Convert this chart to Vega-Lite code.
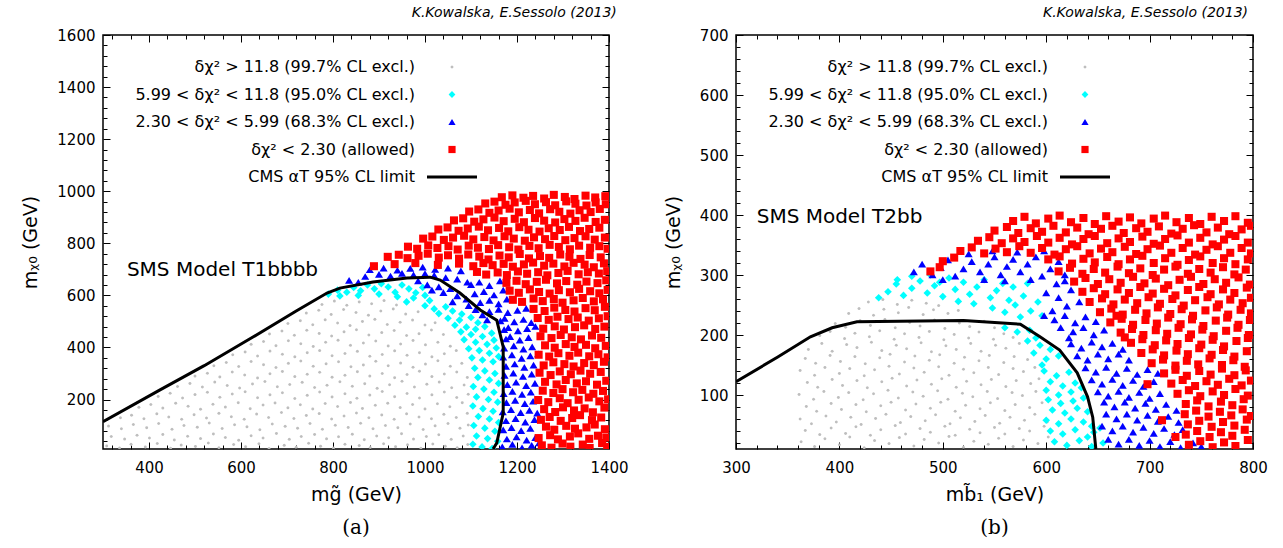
{
"$schema": "https://vega.github.io/schema/vega-lite/v6.json",
"background": "white",
"padding": {"left": 21, "top": 6, "right": 0, "bottom": 0},
"spacing": 34,
"config": {
  "font": "DejaVu Sans",
  "view": {"stroke": "black", "strokeWidth": 1.5},
  "axis": {"grid": false, "domain": false, "labelFont": "DejaVu Sans", "labelFontSize": 15, "labelColor": "black", "tickColor": "black", "tickWidth": 1, "titleFont": "DejaVu Sans", "titleFontSize": 19, "titleFontWeight": "normal", "titleColor": "black", "labelFlush": false, "labelOverlap": false, "format": "d"},
  "title": {"font": "DejaVu Sans", "fontWeight": "normal", "color": "black"},
  "point": {"filled": true, "opacity": 1, "strokeWidth": 0, "size": 100},
  "legend": {"orient": "none", "legendX": 41, "legendY": 24, "title": null, "labelFont": "DejaVu Sans", "labelFontSize": 16, "labelColor": "black", "labelAlign": "right", "labelOffset": -45, "symbolOffset": 300, "labelLimit": 600, "rowPadding": 11.5, "symbolSize": 100, "symbolStrokeWidth": 0}
},
"resolve": {"scale": {"color": "independent", "shape": "independent"}},
"hconcat": [
{
  "title": {"text": "K.Kowalska, E.Sessolo (2013)", "anchor": "end", "orient": "top", "fontStyle": "italic", "fontSize": 14, "offset": 7, "dx": -12},
  "vconcat": [{
    "width": 506, "height": 414,
    "title": {"text": "(a)", "orient": "bottom", "anchor": "middle", "frame": "group", "font": "DejaVu Serif", "fontSize": 20, "offset": 14},
    "data": {"values": "x,y,c\n308,22,g\n336,14,g\n361,28,g\n392,18,g\n418,31,g\n447,13,g\n470,25,g\n501,20,g\n529,33,g\n552,15,g\n584,27,g\n610,19,g\n639,30,g\n661,12,g\n694,24,g\n720,17,g\n747,32,g\n773,21,g\n801,14,g\n826,28,g\n857,23,g\n881,16,g\n910,30,g\n936,19,g\n962,26,g\n991,13,g\n1017,29,g\n1044,21,g\n1070,15,g\n1093,27,g\n318,58,g\n347,48,g\n374,63,g\n401,52,g\n430,66,g\n455,45,g\n484,59,g\n512,50,g\n540,68,g\n566,54,g\n595,44,g\n622,61,g\n648,52,g\n677,70,g\n705,47,g\n731,58,g\n760,66,g\n786,49,g\n812,57,g\n842,67,g\n868,46,g\n895,60,g\n921,53,g\n949,69,g\n975,48,g\n1003,58,g\n1030,65,g\n1057,47,g\n1083,60,g\n312,98,g\n340,88,g\n366,104,g\n395,92,g\n421,108,g\n450,86,g\n476,100,g\n505,94,g\n531,110,g\n559,89,g\n586,103,g\n613,95,g\n641,84,g\n668,106,g\n696,97,g\n723,90,g\n750,108,g\n777,86,g\n805,101,g\n833,93,g\n860,109,g\n887,88,g\n914,100,g\n941,92,g\n968,106,g\n996,85,g\n1022,99,g\n1050,108,g\n1076,90,g\n1094,102,g\n338,130,g\n362,140,g\n389,126,g\n417,145,g\n443,133,g\n471,124,g\n498,142,g\n525,129,g\n552,147,g\n579,134,g\n607,124,g\n634,144,g\n660,131,g\n688,150,g\n715,127,g\n742,139,g\n770,146,g\n797,125,g\n824,137,g\n851,148,g\n878,130,g\n906,141,g\n933,124,g\n960,145,g\n987,133,g\n1014,126,g\n1041,143,g\n1068,131,g\n1092,147,g\n378,170,g\n404,181,g\n430,167,g\n458,186,g\n485,174,g\n512,163,g\n539,182,g\n566,171,g\n594,188,g\n620,165,g\n648,179,g\n674,187,g\n702,168,g\n729,180,g\n756,164,g\n783,185,g\n810,173,g\n838,189,g\n864,166,g\n892,178,g\n919,186,g\n946,169,g\n973,181,g\n1000,164,g\n1027,184,g\n1054,172,g\n1081,188,g\n420,212,g\n446,224,g\n473,206,g\n500,219,g\n527,228,g\n554,209,g\n581,221,g\n609,230,g\n636,207,g\n663,218,g\n690,226,g\n717,204,g\n744,216,g\n771,229,g\n798,210,g\n826,222,g\n852,205,g\n880,217,g\n907,231,g\n934,211,g\n961,223,g\n988,206,g\n1015,218,g\n1042,229,g\n1069,208,g\n1094,220,g\n462,250,g\n489,262,g\n516,248,g\n543,267,g\n570,254,g\n597,244,g\n625,260,g\n652,269,g\n679,249,g\n706,258,g\n733,266,g\n760,246,g\n787,255,g\n815,268,g\n842,251,g\n869,261,g\n896,243,g\n923,257,g\n950,270,g\n977,248,g\n1004,259,g\n1031,267,g\n1058,245,g\n1085,256,g\n500,290,g\n527,301,g\n554,287,g\n581,306,g\n608,294,g\n636,283,g\n663,299,g\n690,308,g\n717,288,g\n744,297,g\n771,305,g\n798,286,g\n826,293,g\n853,307,g\n880,290,g\n907,300,g\n934,284,g\n961,296,g\n988,309,g\n1015,288,g\n1042,298,g\n1069,306,g\n1092,285,g\n541,330,g\n568,342,g\n595,327,g\n622,346,g\n649,334,g\n676,323,g\n703,339,g\n730,348,g\n757,328,g\n785,337,g\n812,345,g\n839,326,g\n866,333,g\n893,347,g\n920,330,g\n947,340,g\n974,324,g\n1001,336,g\n1028,349,g\n1055,328,g\n1080,339,g\n582,372,g\n609,383,g\n636,367,g\n663,386,g\n690,374,g\n717,364,g\n744,380,g\n771,388,g\n798,368,g\n826,377,g\n853,385,g\n880,366,g\n907,373,g\n934,387,g\n961,370,g\n988,380,g\n1015,364,g\n1042,376,g\n1068,388,g\n622,412,g\n649,423,g\n676,407,g\n703,426,g\n730,414,g\n757,404,g\n784,420,g\n811,428,g\n838,408,g\n866,417,g\n893,425,g\n920,406,g\n947,413,g\n974,427,g\n1001,410,g\n1028,420,g\n1055,405,g\n662,452,g\n689,463,g\n716,447,g\n743,466,g\n770,454,g\n797,444,g\n824,460,g\n851,468,g\n878,448,g\n906,457,g\n933,465,g\n960,446,g\n987,453,g\n1014,467,g\n1040,450,g\n702,492,g\n729,503,g\n756,487,g\n783,506,g\n810,494,g\n837,484,g\n864,500,g\n891,508,g\n918,488,g\n946,497,g\n973,505,g\n1000,486,g\n1022,495,g\n742,532,g\n769,543,g\n796,527,g\n823,546,g\n850,534,g\n877,524,g\n904,540,g\n931,548,g\n958,528,g\n985,537,g\n776,565,g\n803,578,g\n830,562,g\n857,575,g\n884,568,g\n911,580,g\n938,563,g\n790,605,c\n810,620,c\n830,612,c\n845,630,c\n860,618,c\n875,640,c\n890,625,c\n905,645,c\n920,632,c\n935,612,c\n950,640,c\n965,625,c\n980,610,c\n995,630,c\n815,598,c\n855,600,c\n900,605,c\n940,595,c\n975,590,c\n1000,600,c\n1010,580,c\n960,575,c\n1000,560,c\n1020,548,c\n1045,556,c\n1030,530,c\n1060,540,c\n1080,528,c\n1050,512,c\n1075,505,c\n1100,515,c\n1115,495,c\n1065,485,c\n1090,478,c\n1110,470,c\n1130,480,c\n1078,460,c\n1100,450,c\n1125,442,c\n1145,455,c\n1085,430,c\n1110,420,c\n1135,412,c\n1150,428,c\n1095,395,c\n1118,388,c\n1140,378,c\n1155,398,c\n1102,360,c\n1125,352,c\n1148,345,c\n1160,365,c\n1108,320,c\n1130,310,c\n1152,300,c\n1115,285,c\n1140,275,c\n1160,262,c\n1105,250,c\n1128,240,c\n1150,228,c\n1112,210,c\n1138,200,c\n1158,190,c\n1104,175,c\n1126,165,c\n1148,155,c\n1116,135,c\n1140,125,c\n1160,112,c\n1106,100,c\n1130,90,c\n1152,78,c\n1112,60,c\n1136,50,c\n1158,40,c\n1104,28,c\n1124,18,c\n1146,12,c\n1168,18,b\n1190,27,b\n1211,14,b\n1232,24,b\n1248,33,b\n1178,48,b\n1199,56,b\n1221,44,b\n1240,53,b\n1170,83,b\n1188,92,b\n1209,80,b\n1229,89,b\n1176,118,b\n1197,126,b\n1218,113,b\n1238,122,b\n1169,152,b\n1187,161,b\n1208,149,b\n1227,158,b\n1244,147,b\n1177,188,b\n1196,196,b\n1217,184,b\n1235,193,b\n1171,222,b\n1190,231,b\n1211,219,b\n1230,228,b\n1179,257,b\n1198,266,b\n1220,253,b\n1239,262,b\n1173,292,b\n1192,301,b\n1213,288,b\n1232,297,b\n1176,327,b\n1195,336,b\n1216,323,b\n1236,332,b\n1170,362,b\n1189,371,b\n1210,358,b\n1229,367,b\n1246,375,b\n1172,397,b\n1193,406,b\n1214,393,b\n1233,402,b\n1176,432,b\n1185,441,b\n1206,428,b\n1225,437,b\n1172,468,b\n1181,476,b\n1202,463,b\n1222,472,b\n1240,480,b\n1164,502,b\n1173,511,b\n1194,498,b\n1214,507,b\n1231,495,b\n1140,537,b\n1160,546,b\n1180,533,b\n1201,542,b\n1220,550,b\n1120,572,b\n1140,580,b\n1160,567,b\n1178,585,b\n1108,605,b\n1128,614,b\n1150,601,b\n1170,620,b\n1100,641,b\n1118,650,b\n1140,637,b\n1163,655,b\n870,672,b\n900,680,b\n925,674,b\n950,684,b\n975,678,b\n1000,683,b\n1020,676,b\n1045,668,b\n1070,662,b\n1092,650,b\n880,698,b\n910,704,b\n940,696,b\n968,703,b\n995,708,b\n1022,699,b\n1050,704,b\n1078,694,b\n1005,640,b\n1030,632,b\n1055,625,b\n985,655,b\n1040,610,b\n1070,598,b\n1090,585,b\n1060,575,b\n1095,560,b\n1110,545,b\n1125,525,b\n1135,505,b\n1015,620,b\n855,650,b\n835,657,b\n1254,24,r\n1275,15,r\n1299,31,r\n1316,19,r\n1343,27,r\n1358,14,r\n1385,33,r\n1396,18,r\n1247,52,r\n1272,63,r\n1289,47,r\n1315,58,r\n1333,70,r\n1357,49,r\n1376,61,r\n1394,54,r\n1263,96,r\n1281,84,r\n1307,99,r\n1326,88,r\n1351,93,r\n1369,104,r\n1391,86,r\n1252,122,r\n1271,133,r\n1295,118,r\n1320,129,r\n1337,140,r\n1363,121,r\n1383,131,r\n1259,163,r\n1283,152,r\n1300,170,r\n1324,158,r\n1347,166,r\n1365,151,r\n1390,169,r\n1246,198,r\n1268,190,r\n1293,205,r\n1310,186,r\n1334,199,r\n1356,208,r\n1379,193,r\n1398,201,r\n1256,234,r\n1279,225,r\n1299,240,r\n1322,228,r\n1342,237,r\n1366,222,r\n1387,233,r\n1261,268,r\n1286,258,r\n1306,275,r\n1330,262,r\n1350,270,r\n1374,257,r\n1394,272,r\n1249,303,r\n1273,294,r\n1293,308,r\n1317,297,r\n1338,311,r\n1359,299,r\n1382,306,r\n1258,331,r\n1279,343,r\n1303,336,r\n1323,327,r\n1346,340,r\n1367,332,r\n1389,345,r\n1247,372,r\n1270,365,r\n1290,378,r\n1314,368,r\n1333,380,r\n1357,366,r\n1377,374,r\n1397,362,r\n1261,408,r\n1282,399,r\n1306,413,r\n1325,402,r\n1350,410,r\n1370,397,r\n1393,406,r\n1251,443,r\n1275,436,r\n1295,448,r\n1319,439,r\n1339,431,r\n1363,446,r\n1383,437,r\n1257,472,r\n1282,481,r\n1302,469,r\n1326,478,r\n1346,485,r\n1370,471,r\n1390,480,r\n1245,513,r\n1269,506,r\n1288,518,r\n1312,509,r\n1332,515,r\n1356,503,r\n1378,512,r\n1397,520,r\n1236,548,r\n1260,540,r\n1281,553,r\n1305,544,r\n1325,538,r\n1349,551,r\n1369,543,r\n1391,556,r\n1191,583,r\n1211,575,r\n1236,588,r\n1256,578,r\n1280,586,r\n1299,572,r\n1323,581,r\n1343,590,r\n1367,577,r\n1387,585,r\n1184,618,r\n1204,610,r\n1228,623,r\n1248,613,r\n1271,607,r\n1291,620,r\n1315,612,r\n1335,625,r\n1359,616,r\n1379,608,r\n1397,621,r\n1177,648,r\n1199,656,r\n1219,643,r\n1243,652,r\n1263,660,r\n1287,646,r\n1307,655,r\n1331,641,r\n1351,653,r\n1375,647,r\n1394,658,r\n1113,690,r\n1133,680,r\n1158,688,r\n1178,678,r\n1202,692,r\n1222,683,r\n1246,689,r\n1266,677,r\n1290,686,r\n1310,694,r\n1334,681,r\n1354,689,r\n1378,684,r\n1396,693,r\n889,712,r\n934,720,r\n979,724,r\n1028,717,r\n1074,722,r\n1105,712,r\n1127,724,r\n1147,716,r\n1171,721,r\n1191,710,r\n1215,719,r\n1235,726,r\n1259,714,r\n1279,722,r\n1303,711,r\n1323,725,r\n1347,718,r\n1367,708,r\n1389,723,r\n919,748,r\n943,756,r\n962,743,r\n986,752,r\n1006,760,r\n1030,745,r\n1050,754,r\n1074,741,r\n1094,757,r\n1118,749,r\n1138,738,r\n1162,753,r\n1182,746,r\n1206,759,r\n1226,742,r\n1250,751,r\n1270,744,r\n1294,757,r\n1314,748,r\n1338,740,r\n1358,755,r\n1382,746,r\n963,787,r\n983,779,r\n1007,792,r\n1027,782,r\n1051,789,r\n1071,776,r\n1095,791,r\n1115,783,r\n1139,778,r\n1159,793,r\n1183,785,r\n1203,776,r\n1227,790,r\n1247,781,r\n1271,794,r\n1291,786,r\n1315,777,r\n1335,791,r\n1359,783,r\n1379,789,r\n1397,779,r\n996,818,r\n1016,826,r\n1041,813,r\n1061,822,r\n1085,829,r\n1105,815,r\n1129,824,r\n1149,811,r\n1173,827,r\n1193,818,r\n1217,810,r\n1237,823,r\n1261,816,r\n1281,828,r\n1305,812,r\n1325,820,r\n1349,827,r\n1369,814,r\n1391,822,r\n1029,853,r\n1049,861,r\n1073,848,r\n1093,857,r\n1117,864,r\n1137,850,r\n1161,859,r\n1181,846,r\n1205,862,r\n1225,852,r\n1249,845,r\n1269,858,r\n1293,851,r\n1313,863,r\n1337,847,r\n1357,855,r\n1379,860,r\n1063,888,r\n1083,896,r\n1107,883,r\n1127,892,r\n1151,899,r\n1171,885,r\n1195,894,r\n1215,881,r\n1239,897,r\n1259,887,r\n1283,880,r\n1303,893,r\n1327,886,r\n1347,898,r\n1371,882,r\n1391,890,r\n1096,922,r\n1116,930,r\n1140,917,r\n1160,926,r\n1184,933,r\n1204,919,r\n1228,928,r\n1248,915,r\n1272,931,r\n1292,921,r\n1316,914,r\n1336,927,r\n1360,920,r\n1380,932,r\n1131,953,r\n1151,960,r\n1175,948,r\n1195,957,r\n1219,963,r\n1239,950,r\n1263,958,r\n1283,946,r\n1307,961,r\n1327,952,r\n1351,945,r\n1371,957,r\n1393,950,r\n1167,977,r\n1190,984,r\n1214,975,r\n1235,982,r\n1259,972,r\n1280,986,r\n1304,978,r\n1325,970,r\n1349,983,r\n1370,976,r\n1392,981,r", "format": {"type": "csv", "parse": {"x": "number", "y": "number"}}},
    "resolve": {"axis": {"x": "independent", "y": "independent"}},
    "layer": [
      {
        "transform": [{"filter": "datum.c === 'g'"}],
        "mark": {"type": "point", "filled": true, "clip": true},
        "encoding": {
          "x": {"field": "x", "type": "quantitative", "scale": {"domain": [300, 1400], "nice": false, "zero": false}, "axis": {"orient": "bottom", "values": [400, 600, 800, 1000, 1200, 1400], "offset": -7, "tickSize": 7, "labelPadding": 11, "title": "mg̃ (GeV)", "titlePadding": 10}},
          "y": {"field": "y", "type": "quantitative", "scale": {"domain": [10, 1600], "nice": false, "zero": false}, "axis": {"orient": "left", "values": [200, 400, 600, 800, 1000, 1200, 1400, 1600], "offset": -7, "tickSize": 7, "labelPadding": 8, "title": "mᵪ₀ (GeV)", "titlePadding": 16}},
          "color": {"field": "c", "type": "nominal", "scale": {"domain": ["g", "c", "b", "r", "l"], "range": ["#bebebe", "#00ffff", "#0000ff", "#ff0000", "#000000"]},
            "legend": {"labelExpr": "datum.value === 'g' ? 'δχ² > 11.8 (99.7% CL excl.)' : datum.value === 'c' ? '5.99 < δχ² < 11.8 (95.0% CL excl.)' : datum.value === 'b' ? '2.30 < δχ² < 5.99 (68.3% CL excl.)' : datum.value === 'r' ? 'δχ² < 2.30 (allowed)' : 'CMS αT 95% CL limit'"}},
          "shape": {"field": "c", "type": "nominal", "scale": {"domain": ["g", "c", "b", "r", "l"], "range": ["M0.3,0L0.21,0.21L0,0.3L-0.21,0.21L-0.3,0L-0.21,-0.21L0,-0.3L0.21,-0.21Z", "M0,-0.68L0.68,0L0,0.68L-0.68,0Z", "M0,-0.62L0.72,0.58L-0.72,0.58Z", "M-0.72,-0.72L0.72,-0.72L0.72,0.72L-0.72,0.72Z", "M-5,-0.3L5,-0.3L5,0.3L-5,0.3Z"]}}
        }
      },
      {
        "transform": [{"filter": "datum.c !== 'g'"}],
        "mark": {"type": "point", "filled": true, "clip": true, "size": 125},
        "encoding": {
          "x": {"field": "x", "type": "quantitative", "axis": {"orient": "bottom", "values": [320,360,440,480,520,560,640,680,720,760,840,880,920,960,1040,1080,1120,1160,1240,1280,1320,1360], "offset": -4, "tickSize": 4, "labels": false, "title": null}},
          "y": {"field": "y", "type": "quantitative", "axis": {"orient": "left", "values": [40,80,120,160,240,280,320,360,440,480,520,560,640,680,720,760,840,880,920,960,1040,1080,1120,1160,1240,1280,1320,1360,1440,1480,1520,1560], "offset": -4, "tickSize": 4, "labels": false, "title": null}},
          "color": {"field": "c", "type": "nominal"},
          "shape": {"field": "c", "type": "nominal"}
        }
      },
      {
        "data": {"values": [{"i":0,"x":300,"y":115},{"i":1,"x":424,"y":237},{"i":2,"x":520,"y":330},{"i":3,"x":626,"y":440},{"i":4,"x":720,"y":540},{"i":5,"x":787,"y":609},{"i":6,"x":815,"y":628},{"i":7,"x":887,"y":651},{"i":8,"x":961,"y":667},{"i":9,"x":1011,"y":670},{"i":10,"x":1033,"y":659},{"i":11,"x":1076,"y":609},{"i":12,"x":1120,"y":544},{"i":13,"x":1156,"y":505},{"i":14,"x":1170,"y":402},{"i":15,"x":1170,"y":148},{"i":16,"x":1156,"y":33},{"i":17,"x":1148,"y":10}]},
        "mark": {"type": "line", "color": "black", "strokeWidth": 3, "clip": true},
        "encoding": {
          "x": {"field": "x", "type": "quantitative", "axis": {"orient": "top", "values": [400, 600, 800, 1000, 1200, 1400], "offset": -7, "tickSize": 7, "labels": false, "title": null}},
          "y": {"field": "y", "type": "quantitative", "axis": {"orient": "right", "values": [200, 400, 600, 800, 1000, 1200, 1400, 1600], "offset": -7, "tickSize": 7, "labels": false, "title": null}},
          "order": {"field": "i", "type": "quantitative"}
        }
      },
      {
        "data": {"values": [{"t": "SMS Model T1bbbb"}]},
        "mark": {"type": "text", "align": "left", "baseline": "middle", "fontSize": 20, "font": "DejaVu Sans", "color": "black"},
        "encoding": {
          "x": {"datum": 352, "type": "quantitative", "axis": {"orient": "top", "values": [320,360,440,480,520,560,640,680,720,760,840,880,920,960,1040,1080,1120,1160,1240,1280,1320,1360], "offset": -4, "tickSize": 4, "labels": false, "title": null}},
          "y": {"datum": 697, "type": "quantitative", "axis": {"orient": "right", "values": [40,80,120,160,240,280,320,360,440,480,520,560,640,680,720,760,840,880,920,960,1040,1080,1120,1160,1240,1280,1320,1360,1440,1480,1520,1560], "offset": -4, "tickSize": 4, "labels": false, "title": null}},
          "text": {"field": "t"}
        }
      }
    ]
  }]
},
{
  "title": {"text": "K.Kowalska, E.Sessolo (2013)", "anchor": "end", "orient": "top", "fontStyle": "italic", "fontSize": 14, "offset": 7, "dx": -20},
  "vconcat": [{
    "width": 517, "height": 414,
    "title": {"text": "(b)", "orient": "bottom", "anchor": "middle", "frame": "group", "font": "DejaVu Serif", "fontSize": 20, "offset": 14},
    "data": {"values": "x,y,c\n363,22,g\n376,14,g\n386,27,g\n400,17,g\n410,30,g\n424,12,g\n434,24,g\n448,19,g\n458,29,g\n472,15,g\n482,26,g\n496,20,g\n506,31,g\n520,13,g\n530,23,g\n544,18,g\n554,28,g\n568,14,g\n578,25,g\n592,19,g\n602,30,g\n367,41,g\n381,34,g\n392,45,g\n406,36,g\n416,47,g\n430,33,g\n440,42,g\n454,49,g\n464,35,g\n478,44,g\n488,38,g\n502,48,g\n512,33,g\n526,43,g\n536,37,g\n550,46,g\n560,35,g\n574,44,g\n584,40,g\n598,48,g\n362,60,g\n373,52,g\n387,65,g\n397,55,g\n411,63,g\n421,51,g\n435,61,g\n445,68,g\n459,54,g\n469,64,g\n483,57,g\n493,67,g\n507,52,g\n517,62,g\n531,56,g\n541,66,g\n555,53,g\n565,63,g\n579,58,g\n589,68,g\n601,55,g\n368,81,g\n378,73,g\n392,86,g\n402,76,g\n416,84,g\n426,72,g\n440,82,g\n450,88,g\n464,75,g\n474,85,g\n488,78,g\n498,88,g\n512,73,g\n522,83,g\n536,77,g\n546,87,g\n560,74,g\n570,84,g\n584,79,g\n596,87,g\n361,101,g\n375,93,g\n385,106,g\n399,96,g\n409,104,g\n423,92,g\n433,102,g\n447,108,g\n457,95,g\n471,105,g\n481,98,g\n495,107,g\n505,93,g\n519,103,g\n529,97,g\n543,106,g\n553,94,g\n567,104,g\n577,99,g\n590,106,g\n369,121,g\n379,113,g\n393,126,g\n403,116,g\n417,124,g\n427,112,g\n441,122,g\n451,128,g\n465,115,g\n475,125,g\n489,118,g\n499,127,g\n513,113,g\n523,123,g\n537,117,g\n547,126,g\n561,114,g\n571,124,g\n585,119,g\n593,127,g\n362,141,g\n376,133,g\n386,146,g\n400,136,g\n410,144,g\n424,132,g\n434,142,g\n448,148,g\n458,135,g\n472,145,g\n482,138,g\n496,147,g\n506,133,g\n520,143,g\n530,137,g\n544,146,g\n554,134,g\n568,144,g\n578,139,g\n589,146,g\n367,161,g\n377,153,g\n391,166,g\n401,156,g\n415,164,g\n425,152,g\n439,162,g\n449,168,g\n463,155,g\n473,165,g\n487,158,g\n497,167,g\n511,153,g\n521,163,g\n535,157,g\n545,166,g\n559,154,g\n569,164,g\n582,159,g\n370,176,g\n383,186,g\n393,173,g\n407,184,g\n417,179,g\n431,188,g\n441,174,g\n455,183,g\n465,177,g\n479,187,g\n489,172,g\n503,182,g\n513,176,g\n527,186,g\n537,173,g\n551,183,g\n561,178,g\n574,186,g\n381,199,g\n391,206,g\n405,194,g\n415,203,g\n429,197,g\n439,207,g\n453,193,g\n463,202,g\n477,196,g\n487,206,g\n501,192,g\n511,201,g\n525,195,g\n535,205,g\n549,193,g\n559,202,g\n568,196,g\n396,219,g\n406,213,g\n420,224,g\n430,216,g\n444,226,g\n454,212,g\n468,221,g\n478,215,g\n492,225,g\n502,211,g\n516,220,g\n526,214,g\n540,223,g\n550,212,g\n409,236,g\n419,244,g\n433,233,g\n443,243,g\n457,237,g\n467,246,g\n481,234,g\n491,242,g\n505,236,g\n515,241,g\n428,255,g\n442,259,g\n456,251,g\n470,258,g\n484,253,g\n496,249,g\n438,262,c\n447,272,c\n455,285,c\n462,266,c\n470,278,c\n478,290,c\n485,270,c\n492,282,c\n500,264,c\n506,295,c\n512,276,c\n520,288,c\n526,268,c\n533,280,c\n540,292,c\n546,262,c\n552,274,c\n558,286,c\n564,258,c\n530,252,c\n515,256,c\n548,245,c\n560,238,c\n470,298,c\n488,300,c\n456,292,c\n497,288,c\n570,250,c\n578,265,c\n585,240,c\n592,255,c\n575,230,c\n596,232,c\n568,280,c\n582,286,c\n560,212,c\n572,205,c\n584,208,c\n590,195,c\n582,190,c\n594,183,c\n604,176,c\n588,170,c\n600,160,c\n612,165,c\n596,150,c\n598,140,c\n610,132,c\n622,138,c\n604,122,c\n616,115,c\n628,120,c\n600,108,c\n612,100,c\n624,105,c\n634,112,c\n602,92,c\n614,86,c\n626,90,c\n636,95,c\n606,75,c\n618,70,c\n630,78,c\n640,72,c\n600,58,c\n612,52,c\n624,60,c\n636,55,c\n644,48,c\n604,40,c\n616,35,c\n628,42,c\n640,30,c\n646,38,c\n608,22,c\n620,16,c\n632,24,c\n644,14,c\n655,20,c\n652,45,c\n472,305,b\n480,318,b\n490,300,b\n498,312,b\n505,325,b\n512,298,b\n520,310,b\n528,322,b\n536,305,b\n544,318,b\n550,330,b\n556,300,b\n562,314,b\n568,326,b\n575,305,b\n582,318,b\n590,330,b\n596,298,b\n604,310,b\n612,322,b\n618,300,b\n540,292,b\n560,290,b\n585,292,b\n610,285,b\n500,292,b\n525,335,b\n548,340,b\n572,338,b\n598,340,b\n600,270,b\n612,262,b\n624,275,b\n632,255,b\n620,248,b\n606,240,b\n618,290,b\n598,232,b\n608,225,b\n618,232,b\n628,220,b\n638,230,b\n648,222,b\n614,212,b\n626,205,b\n636,212,b\n646,200,b\n656,208,b\n622,195,b\n624,185,b\n634,178,b\n644,188,b\n654,180,b\n664,186,b\n674,176,b\n630,165,b\n640,158,b\n650,168,b\n660,160,b\n670,168,b\n680,158,b\n638,145,b\n648,138,b\n658,146,b\n668,136,b\n678,144,b\n688,134,b\n698,142,b\n708,136,b\n644,125,b\n654,118,b\n664,126,b\n674,116,b\n684,124,b\n694,114,b\n704,122,b\n650,105,b\n660,98,b\n670,106,b\n680,96,b\n690,104,b\n700,94,b\n710,102,b\n656,88,b\n666,80,b\n676,88,b\n686,78,b\n696,86,b\n706,76,b\n716,84,b\n726,74,b\n658,68,b\n668,60,b\n678,68,b\n688,58,b\n698,66,b\n708,56,b\n718,64,b\n728,54,b\n654,48,b\n664,40,b\n674,48,b\n684,38,b\n694,46,b\n704,36,b\n714,44,b\n724,34,b\n732,42,b\n660,26,b\n670,18,b\n680,26,b\n690,16,b\n700,24,b\n710,14,b\n720,22,b\n730,12,b\n742,20,b\n750,14,b\n568,390,r\n579,397,r\n590,386,r\n602,394,r\n613,399,r\n624,388,r\n636,395,r\n647,385,r\n658,398,r\n670,389,r\n681,396,r\n692,386,r\n704,394,r\n715,399,r\n726,388,r\n738,395,r\n749,385,r\n760,397,r\n772,390,r\n783,398,r\n795,387,r\n550,374,r\n562,380,r\n573,370,r\n585,378,r\n596,372,r\n607,382,r\n619,371,r\n630,379,r\n641,368,r\n653,377,r\n664,382,r\n675,370,r\n687,378,r\n698,372,r\n709,381,r\n721,369,r\n732,377,r\n743,383,r\n755,371,r\n766,379,r\n777,368,r\n789,376,r\n798,382,r\n534,357,r\n545,363,r\n557,353,r\n568,361,r\n579,355,r\n591,365,r\n602,354,r\n613,362,r\n625,351,r\n636,360,r\n647,365,r\n659,353,r\n670,361,r\n681,355,r\n693,364,r\n704,352,r\n715,360,r\n727,366,r\n738,354,r\n749,362,r\n761,351,r\n772,359,r\n783,365,r\n795,354,r\n517,340,r\n528,346,r\n540,336,r\n551,344,r\n562,338,r\n574,348,r\n585,337,r\n596,345,r\n608,334,r\n619,343,r\n630,348,r\n642,336,r\n653,344,r\n664,338,r\n676,347,r\n687,335,r\n698,343,r\n710,349,r\n721,337,r\n732,345,r\n744,334,r\n755,342,r\n766,348,r\n778,337,r\n789,345,r\n798,336,r\n500,323,r\n511,329,r\n602,326,r\n613,331,r\n625,319,r\n636,327,r\n647,321,r\n659,330,r\n670,318,r\n681,326,r\n693,332,r\n704,320,r\n715,328,r\n727,317,r\n738,325,r\n749,331,r\n761,320,r\n772,328,r\n783,318,r\n795,326,r\n488,306,r\n497,313,r\n612,306,r\n623,312,r\n635,302,r\n646,310,r\n657,304,r\n669,314,r\n680,303,r\n691,311,r\n703,300,r\n714,309,r\n725,314,r\n737,302,r\n748,310,r\n759,304,r\n771,313,r\n782,301,r\n793,309,r\n627,289,r\n638,295,r\n650,285,r\n661,293,r\n672,287,r\n684,297,r\n695,286,r\n706,294,r\n718,283,r\n729,292,r\n740,297,r\n752,285,r\n763,293,r\n774,287,r\n786,296,r\n797,284,r\n635,272,r\n646,278,r\n657,268,r\n669,276,r\n680,270,r\n691,280,r\n703,269,r\n714,277,r\n725,266,r\n737,275,r\n748,280,r\n759,268,r\n771,276,r\n782,270,r\n794,279,r\n642,255,r\n654,261,r\n665,251,r\n676,259,r\n688,253,r\n699,263,r\n710,252,r\n722,260,r\n733,249,r\n744,258,r\n756,263,r\n767,251,r\n778,259,r\n790,253,r\n798,262,r\n652,238,r\n663,244,r\n674,234,r\n686,242,r\n697,236,r\n708,246,r\n720,235,r\n731,243,r\n742,232,r\n754,241,r\n765,246,r\n776,234,r\n788,242,r\n798,236,r\n662,221,r\n673,227,r\n684,217,r\n696,225,r\n707,219,r\n718,229,r\n730,218,r\n741,226,r\n752,215,r\n764,224,r\n775,229,r\n786,217,r\n797,225,r\n672,204,r\n683,210,r\n694,200,r\n706,208,r\n717,202,r\n728,212,r\n740,201,r\n751,209,r\n762,198,r\n774,207,r\n785,212,r\n796,200,r\n682,187,r\n693,193,r\n705,183,r\n716,191,r\n727,185,r\n738,195,r\n750,184,r\n761,192,r\n772,181,r\n784,190,r\n795,195,r\n692,170,r\n703,176,r\n714,166,r\n726,174,r\n737,168,r\n748,178,r\n760,167,r\n771,175,r\n782,164,r\n794,173,r\n702,153,r\n713,159,r\n725,149,r\n736,157,r\n747,151,r\n758,161,r\n770,150,r\n781,158,r\n792,147,r\n714,136,r\n725,142,r\n736,132,r\n748,140,r\n759,134,r\n770,144,r\n782,133,r\n793,141,r\n721,119,r\n732,125,r\n744,115,r\n755,123,r\n766,117,r\n777,127,r\n789,116,r\n798,124,r\n727,102,r\n738,108,r\n749,98,r\n761,106,r\n772,100,r\n783,110,r\n795,99,r\n735,85,r\n746,91,r\n757,81,r\n769,89,r\n780,83,r\n791,93,r\n734,68,r\n745,74,r\n757,64,r\n768,72,r\n779,66,r\n790,76,r\n798,65,r\n737,51,r\n748,57,r\n760,47,r\n771,55,r\n782,49,r\n794,59,r\n735,34,r\n746,40,r\n758,30,r\n769,38,r\n780,32,r\n792,42,r\n738,17,r\n749,23,r\n761,13,r\n772,21,r\n783,15,r\n795,25,r\n712,58,r\n698,118,r\n676,196,r\n668,232,r\n725,30,r", "format": {"type": "csv", "parse": {"x": "number", "y": "number"}}},
    "resolve": {"axis": {"x": "independent", "y": "independent"}},
    "layer": [
      {
        "transform": [{"filter": "datum.c === 'g'"}],
        "mark": {"type": "point", "filled": true, "clip": true},
        "encoding": {
          "x": {"field": "x", "type": "quantitative", "scale": {"domain": [300, 800], "nice": false, "zero": false}, "axis": {"orient": "bottom", "values": [300, 400, 500, 600, 700, 800], "offset": -7, "tickSize": 7, "labelPadding": 11, "title": "mb̃₁ (GeV)", "titlePadding": 10}},
          "y": {"field": "y", "type": "quantitative", "scale": {"domain": [10, 700], "nice": false, "zero": false}, "axis": {"orient": "left", "values": [100, 200, 300, 400, 500, 600, 700], "offset": -7, "tickSize": 7, "labelPadding": 8, "title": "mᵪ₀ (GeV)", "titlePadding": 16}},
          "color": {"field": "c", "type": "nominal", "scale": {"domain": ["g", "c", "b", "r", "l"], "range": ["#bebebe", "#00ffff", "#0000ff", "#ff0000", "#000000"]},
            "legend": {"labelExpr": "datum.value === 'g' ? 'δχ² > 11.8 (99.7% CL excl.)' : datum.value === 'c' ? '5.99 < δχ² < 11.8 (95.0% CL excl.)' : datum.value === 'b' ? '2.30 < δχ² < 5.99 (68.3% CL excl.)' : datum.value === 'r' ? 'δχ² < 2.30 (allowed)' : 'CMS αT 95% CL limit'"}},
          "shape": {"field": "c", "type": "nominal", "scale": {"domain": ["g", "c", "b", "r", "l"], "range": ["M0.3,0L0.21,0.21L0,0.3L-0.21,0.21L-0.3,0L-0.21,-0.21L0,-0.3L0.21,-0.21Z", "M0,-0.68L0.68,0L0,0.68L-0.68,0Z", "M0,-0.62L0.72,0.58L-0.72,0.58Z", "M-0.72,-0.72L0.72,-0.72L0.72,0.72L-0.72,0.72Z", "M-5,-0.3L5,-0.3L5,0.3L-5,0.3Z"]}}
        }
      },
      {
        "transform": [{"filter": "datum.c !== 'g'"}],
        "mark": {"type": "point", "filled": true, "clip": true, "size": 125},
        "encoding": {
          "x": {"field": "x", "type": "quantitative", "axis": {"orient": "bottom", "values": [320,340,360,380,420,440,460,480,520,540,560,580,620,640,660,680,720,740,760,780], "offset": -4, "tickSize": 4, "labels": false, "title": null}},
          "y": {"field": "y", "type": "quantitative", "axis": {"orient": "left", "values": [20,40,60,80,120,140,160,180,220,240,260,280,320,340,360,380,420,440,460,480,520,540,560,580,620,640,660,680], "offset": -4, "tickSize": 4, "labels": false, "title": null}},
          "color": {"field": "c", "type": "nominal"},
          "shape": {"field": "c", "type": "nominal"}
        }
      },
      {
        "data": {"values": [{"i":0,"x":300,"y":122},{"i":1,"x":340,"y":163},{"i":2,"x":372,"y":197},{"i":3,"x":393,"y":212},{"i":4,"x":417,"y":222},{"i":5,"x":520,"y":224},{"i":6,"x":575,"y":218},{"i":7,"x":594,"y":197},{"i":8,"x":613,"y":175},{"i":9,"x":630,"y":137},{"i":10,"x":640,"y":97},{"i":11,"x":645,"y":63},{"i":12,"x":648,"y":10}]},
        "mark": {"type": "line", "color": "black", "strokeWidth": 3, "clip": true},
        "encoding": {
          "x": {"field": "x", "type": "quantitative", "axis": {"orient": "top", "values": [300, 400, 500, 600, 700, 800], "offset": -7, "tickSize": 7, "labels": false, "title": null}},
          "y": {"field": "y", "type": "quantitative", "axis": {"orient": "right", "values": [100, 200, 300, 400, 500, 600, 700], "offset": -7, "tickSize": 7, "labels": false, "title": null}},
          "order": {"field": "i", "type": "quantitative"}
        }
      },
      {
        "data": {"values": [{"t": "SMS Model T2bb"}]},
        "mark": {"type": "text", "align": "left", "baseline": "middle", "fontSize": 20, "font": "DejaVu Sans", "color": "black"},
        "encoding": {
          "x": {"datum": 320, "type": "quantitative", "axis": {"orient": "top", "values": [320,340,360,380,420,440,460,480,520,540,560,580,620,640,660,680,720,740,760,780], "offset": -4, "tickSize": 4, "labels": false, "title": null}},
          "y": {"datum": 397, "type": "quantitative", "axis": {"orient": "right", "values": [20,40,60,80,120,140,160,180,220,240,260,280,320,340,360,380,420,440,460,480,520,540,560,580,620,640,660,680], "offset": -4, "tickSize": 4, "labels": false, "title": null}},
          "text": {"field": "t"}
        }
      }
    ]
  }]
}
]
}
